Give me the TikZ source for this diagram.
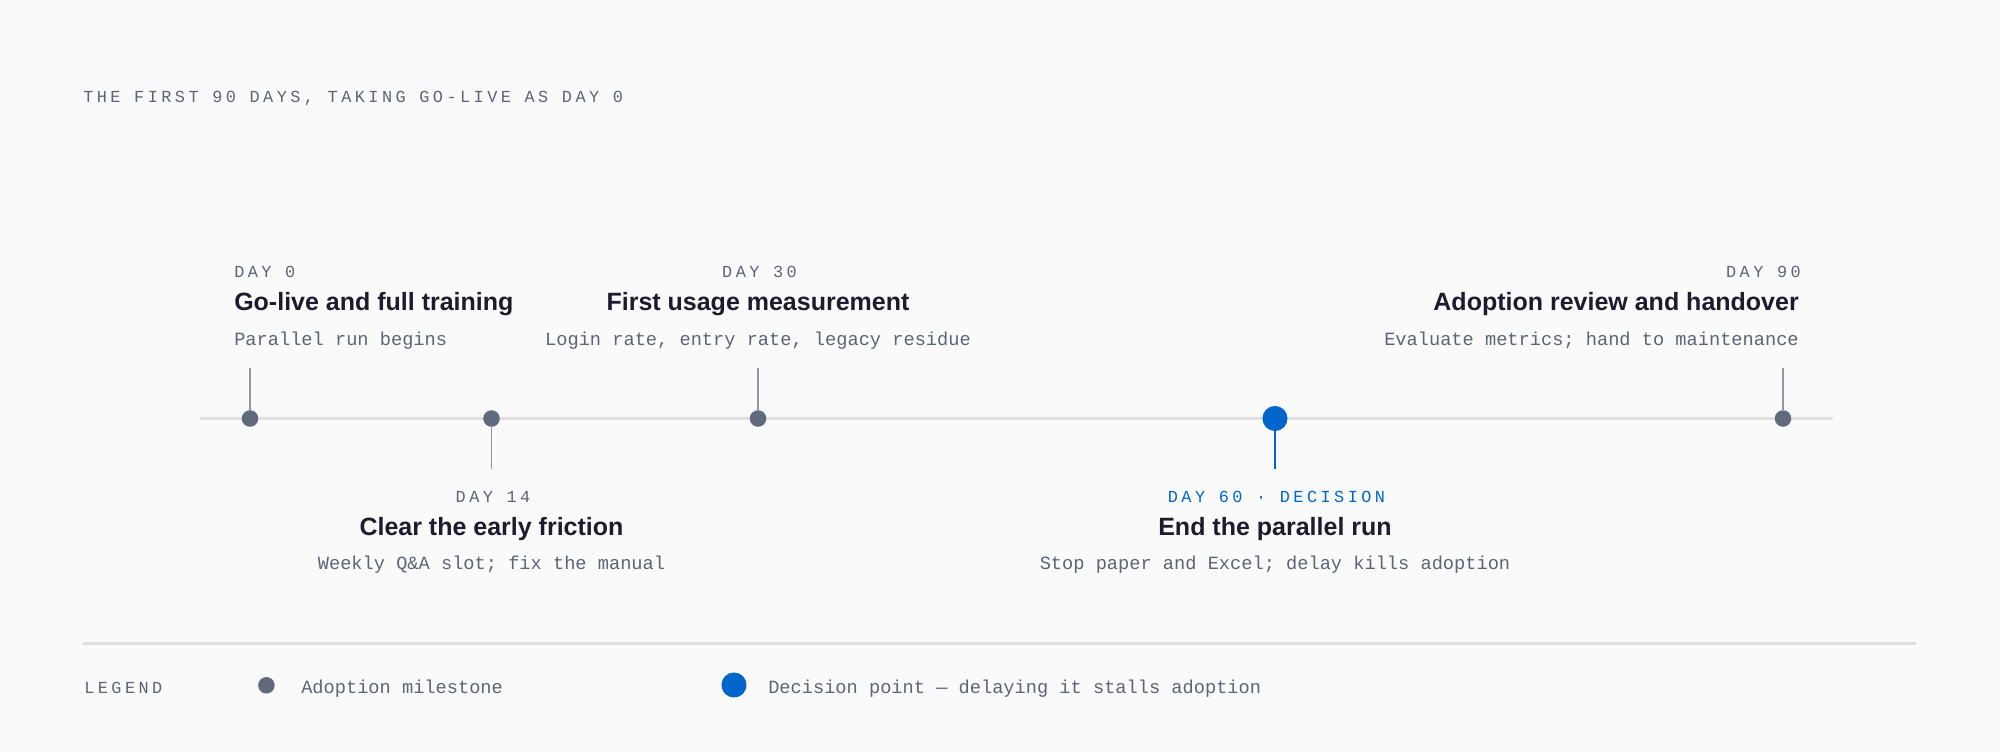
\documentclass[tikz,border=0pt]{standalone}
\usepackage{fontspec}
\setmainfont{Liberation Sans}
\newfontfamily\monof{Liberation Mono}
\newfontfamily\monosp[LetterSpace=20.6]{Liberation Mono}
\definecolor{bg}{HTML}{FAFAFA}
\definecolor{slate}{HTML}{5B6577}
\definecolor{ink}{HTML}{1B1D2E}
\definecolor{dotgray}{HTML}{5F6B7D}
\definecolor{stemgray}{HTML}{8C97A8}
\definecolor{accent}{HTML}{0066CC}
\definecolor{axisgray}{HTML}{DFDFE2}
\begin{document}
\begin{tikzpicture}[x=0.75pt,y=-0.75pt,
  daylbl/.style={font=\monosp\fontsize{12.65pt}{14pt}\selectfont, text=slate, inner sep=0pt},
  ttl/.style={font=\bfseries\fontsize{18.75pt}{22pt}\selectfont, text=ink, inner sep=0pt},
  sub/.style={font=\monof\fontsize{14pt}{16pt}\selectfont, text=slate, inner sep=0pt},
  mdot/.style={circle, fill=dotgray, minimum size=12.4pt, inner sep=0pt},
  ddot/.style={circle, fill=accent, minimum size=18.8pt, inner sep=0pt},
  stemline/.style={draw=stemgray, line width=1.1pt},
  dstem/.style={draw=accent, line width=1.8pt},
  axisline/.style={draw=axisgray, line width=1.6pt},
]
\fill[bg] (0,0) rectangle (2000,752);
\useasboundingbox (0,0) rectangle (2000,752);

% heading
\node[daylbl, anchor=base west] (head) at (83,102.7) {THE FIRST 90 DAYS, TAKING GO-LIVE AS DAY 0};

% axis
\coordinate (ax0) at (200,418.5);
\coordinate (ax1) at (1833,418.5);
\draw[axisline] (ax0) -- (ax1);

% stems ends
\coordinate (s0) at (250,368.5);
\coordinate (s14) at (491.5,468.5);
\coordinate (s30) at (758,368.5);
\coordinate (s60) at (1275,468.5);
\coordinate (s90) at (1783,368.5);

% dots
\node[mdot] (d0) at (250,418.5) {};
\node[mdot] (d14) at (491.5,418.5) {};
\node[mdot] (d30) at (758,418.5) {};
\node[ddot] (d60) at (1275,418.5) {};
\node[mdot] (d90) at (1783,418.5) {};

\draw[stemline] (s0) -- (d0.north);
\draw[stemline] (d14.south) -- (s14);
\draw[stemline] (s30) -- (d30.north);
\draw[dstem] (d60.south) -- (s60);
\draw[stemline] (s90) -- (d90.north);

% Day 0
\node[daylbl, anchor=base west] (l0a) at (234,277.3) {DAY 0};
\node[ttl, anchor=base west] (l0b) at (234,310.7) {Go-live and full training};
\node[sub, anchor=base west] (l0c) at (234,345) {Parallel run begins};

% Day 14
\node[daylbl, anchor=base] (l14a) at (493,502.3) {DAY 14};
\node[ttl, anchor=base] (l14b) at (491.5,535) {Clear the early friction};
\node[sub, anchor=base] (l14c) at (491.5,569.3) {Weekly Q\&A slot; fix the manual};

% Day 30
\node[daylbl, anchor=base] (l30a) at (759.5,277.3) {DAY 30};
\node[ttl, anchor=base] (l30b) at (758,310.7) {First usage measurement};
\node[sub, anchor=base] (l30c) at (758,345) {Login rate, entry rate, legacy residue};

% Day 60
\node[daylbl, anchor=base, text=accent] (l60a) at (1276.5,502.3) {DAY 60 · DECISION};
\node[ttl, anchor=base] (l60b) at (1275,535) {End the parallel run};
\node[sub, anchor=base] (l60c) at (1275,569.3) {Stop paper and Excel; delay kills adoption};

% Day 90
\node[daylbl, anchor=base east] (l90a) at (1801,277.3) {DAY 90};
\node[ttl, anchor=base east] (l90b) at (1799,310.7) {Adoption review and handover};
\node[sub, anchor=base east] (l90c) at (1799,345) {Evaluate metrics; hand to maintenance};

% legend
\coordinate (sep0) at (83,643.5);
\coordinate (sep1) at (1916,643.5);
\draw[axisline] (sep0) -- (sep1);
\node[daylbl, anchor=base west] (leg) at (84,693.3) {LEGEND};
\node[mdot] (legd1) at (266.4,685.3) {};
\node[sub, anchor=base west] (legt1) at (301,693.3) {Adoption milestone};
\node[ddot] (legd2) at (734,685) {};
\node[sub, anchor=base west] (legt2) at (768,693.3) {Decision point — delaying it stalls adoption};
\end{tikzpicture}
\end{document}
